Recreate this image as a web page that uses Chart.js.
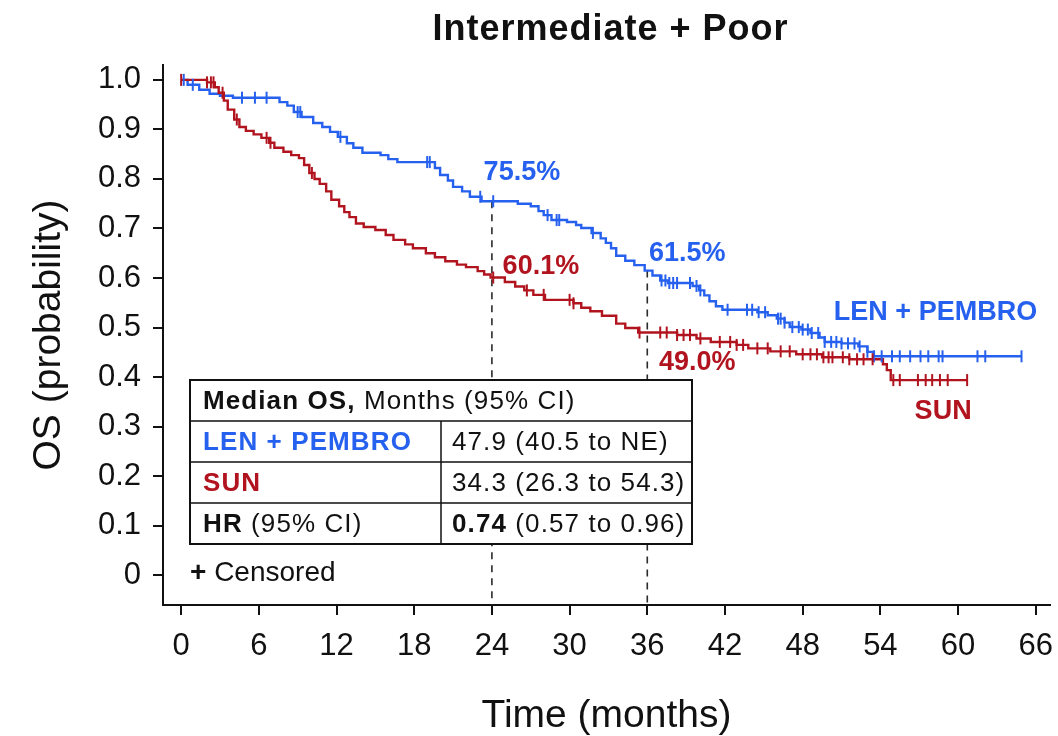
<!DOCTYPE html>
<html>
<head>
<meta charset="utf-8">
<title>OS - Intermediate + Poor</title>
<script src="https://cdn.jsdelivr.net/npm/chart.js@4.4.1/dist/chart.umd.min.js"></script>
<style>
  html, body { margin: 0; padding: 0; background: #fff; }
  #wrap { width: 1058px; height: 736px; }
</style>
</head>
<body>
<div id="wrap"><canvas id="os-chart" width="1058" height="736"></canvas></div>
<script>
// Kaplan-Meier OS curves, intermediate + poor risk group

// LEN + PEMBRO: event times (months) and survival right after each step
const lenTime = [0, 0.5, 1.4, 2.2, 3.0, 4.0, 7.6, 8.2, 8.7, 9.3, 10.2, 10.9, 11.5, 12.1, 12.8, 13.3, 14.0, 15.4, 16.0, 16.7,
  19.6, 20.0, 20.6, 21.0, 21.7, 22.3, 23.2, 26.0, 27.0, 27.6, 28.0, 28.6, 29.8, 30.5, 30.9, 31.7, 32.4, 32.8, 33.2, 33.6,
  34.3, 35.0, 35.8, 36.4, 37.0, 37.6, 39.5, 40.0, 40.4, 40.8, 41.3, 41.8, 44.5, 45.3, 46.0, 46.6, 47.0, 47.9, 48.6, 49.3,
  49.7, 51.0, 52.3, 53.0, 53.5, 64.9];
const lenSurv = [1.0, 0.99, 0.98, 0.972, 0.968, 0.964, 0.955, 0.948, 0.935, 0.925, 0.913, 0.905, 0.895, 0.885, 0.872, 0.863, 0.853, 0.848, 0.84, 0.834,
  0.822, 0.808, 0.797, 0.784, 0.775, 0.764, 0.755, 0.75, 0.745, 0.735, 0.727, 0.717, 0.713, 0.707, 0.701, 0.691, 0.68, 0.671, 0.66, 0.645,
  0.635, 0.626, 0.615, 0.605, 0.595, 0.59, 0.584, 0.575, 0.565, 0.553, 0.543, 0.536, 0.531, 0.525, 0.518, 0.51, 0.501, 0.496, 0.489, 0.48,
  0.471, 0.468, 0.462, 0.451, 0.442, 0.442];
const lenCensor = [0.2, 0.9, 4.7, 5.7, 6.6, 9.0, 9.2, 12.3, 19.0, 19.2, 23.1, 24.1, 28.3, 29.0, 29.2, 31.8, 37.1, 37.4, 37.7, 38.0,
  38.3, 39.3, 39.8, 40.1, 42.2, 43.7, 44.1, 44.6, 45.1, 46.1, 46.3, 46.6, 47.2, 47.7, 48.0, 48.4, 48.7, 49.2, 49.7, 50.2,
  50.6, 51.0, 51.5, 52.0, 52.4, 53.0, 53.5, 54.1, 54.9, 55.5, 56.3, 57.1, 57.7, 58.5, 58.8, 61.5, 62.1, 64.9];

// SUN
const sunTime = [0, 2.0, 2.6, 2.9, 3.3, 3.6, 4.1, 4.5, 5.0, 5.6, 6.2, 6.8, 7.2, 7.9, 8.5, 9.1, 9.5, 9.9, 10.3, 10.7,
  11.2, 11.6, 12.2, 12.6, 13.0, 13.5, 14.1, 15.0, 15.8, 16.4, 17.3, 17.9, 18.9, 19.6, 20.4, 21.3, 22.0, 22.9, 23.4, 23.9,
  25.0, 25.8, 26.5, 27.2, 28.1, 30.3, 30.9, 31.6, 32.5, 33.6, 34.3, 35.3, 38.3, 39.8, 40.9, 42.9, 43.8, 45.5, 47.5, 49.5,
  51.6, 54.2, 54.5, 54.8, 60.7];
const sunSurv = [1.0, 0.995, 0.985, 0.974, 0.958, 0.94, 0.92, 0.905, 0.897, 0.89, 0.883, 0.873, 0.863, 0.855, 0.848, 0.842, 0.828, 0.812, 0.8, 0.79,
  0.775, 0.758, 0.745, 0.733, 0.723, 0.71, 0.703, 0.697, 0.687, 0.677, 0.668, 0.66, 0.65, 0.642, 0.634, 0.627, 0.622, 0.614, 0.607, 0.601,
  0.592, 0.583, 0.575, 0.566, 0.556, 0.549, 0.54, 0.533, 0.524, 0.508, 0.499, 0.49, 0.485, 0.478, 0.471, 0.465, 0.458, 0.452, 0.446, 0.44,
  0.436, 0.426, 0.414, 0.394, 0.394];
const sunCensor = [0, 2.0, 2.3, 2.5, 3.2, 4.3, 6.6, 6.9, 10.1, 24.1, 26.7, 28.0, 30.0, 30.3, 35.4, 37.0, 37.5, 38.3, 38.8, 39.3,
  40.1, 41.6, 42.4, 42.9, 43.4, 44.5, 45.3, 46.3, 47.0, 48.0, 48.6, 49.1, 49.6, 50.0, 50.3, 51.1, 51.6, 52.2, 52.7, 53.4,
  55.0, 55.5, 56.9, 57.5, 58.0, 58.6, 59.2, 60.7];

// landmark estimates at 24 and 36 months
const landmarkMonths = [24, 36];
const lenLandmark = [0.755, 0.615];
const sunLandmark = [0.601, 0.490];

// axes
const xTicks = [0, 6, 12, 18, 24, 30, 36, 42, 48, 54, 60, 66];
const yTicks = [0, 0.1, 0.2, 0.3, 0.4, 0.5, 0.6, 0.7, 0.8, 0.9, 1.0];

// summary table
const armNames = ["LEN + PEMBRO", "SUN"];
const medianOS = ["47.9 (40.5 to NE)", "34.3 (26.3 to 54.3)"];
const hrValue = "0.74";
const hrCI = "(0.57 to 0.96)";

const BLUE = "#2660ee";
const RED = "#b1141f";
const FONT = '"Liberation Sans", Arial, Helvetica, sans-serif';

const survivalAt = (times, surv, t) => {
    let s = surv[0];
    for (let i = 0; i < times.length; i++) {
        if (times[i] <= t) s = surv[i];
        else break;
    }
    return s;
};

const curve = (times, surv) => times.map((t, i) => ({ x: t, y: surv[i] }));
const censorPts = (cens, times, surv) => cens.map(t => ({ x: t, y: survivalAt(times, surv, t) }));
const pct = (v) => (v * 100).toFixed(1) + "%";

const Y_MIN = -0.06;

// draws a row of text pieces with mixed weight / colour
function drawRuns(ctx, x, y, runs, size, spacing) {
    ctx.letterSpacing = spacing + "px";
    runs.forEach(r => {
        ctx.font = (r.bold ? "bold " : "") + size + "px " + FONT;
        ctx.fillStyle = r.color || "#111";
        ctx.fillText(r.text, x, y);
        x += ctx.measureText(r.text).width;
    });
    ctx.letterSpacing = "0px";
}

const overlay = {
    id: "overlay",
    afterDatasetsDraw(chart) {
        const { ctx, chartArea, scales } = chart;
        const xs = scales.x, ys = scales.y;
        ctx.save();
        ctx.textBaseline = "middle";

        // title
        ctx.textAlign = "center";
        ctx.font = "bold 36px " + FONT;
        ctx.letterSpacing = "1px";
        ctx.fillStyle = "#111";
        ctx.fillText("Intermediate + Poor", (chartArea.left + chartArea.right) / 2 + 4, 30);
        ctx.letterSpacing = "0px";

        // landmark percentages
        const offs = [[[30, -29], [49, -11]], [[40, -17], [50, 30]]];
        landmarkMonths.forEach((m, i) => {
            const px = xs.getPixelForValue(m);
            ctx.font = "bold 27px " + FONT;
            ctx.fillStyle = BLUE;
            ctx.fillText(pct(lenLandmark[i]), px + offs[i][0][0], ys.getPixelForValue(lenLandmark[i]) + offs[i][0][1]);
            ctx.fillStyle = RED;
            ctx.fillText(pct(sunLandmark[i]), px + offs[i][1][0], ys.getPixelForValue(sunLandmark[i]) + offs[i][1][1]);
        });

        // arm labels near the curve tails
        const lenEnd = lenTime.length - 1, sunEnd = sunTime.length - 1;
        ctx.font = "bold 27px " + FONT;
        ctx.fillStyle = BLUE;
        ctx.fillText(armNames[0], xs.getPixelForValue(lenTime[lenEnd]) - 86, ys.getPixelForValue(lenSurv[lenEnd]) - 44);
        ctx.fillStyle = RED;
        ctx.fillText(armNames[1], xs.getPixelForValue(sunTime[sunEnd]) - 24, ys.getPixelForValue(sunSurv[sunEnd]) + 31);

        // median OS table
        const tl = chartArea.left + 27, tr = tl + 502, tt = 380, rowH = 41, colX = tl + 251;
        ctx.fillStyle = "#fff";
        ctx.fillRect(tl, tt, tr - tl, rowH * 4);
        ctx.strokeStyle = "#111";
        ctx.lineWidth = 1.5;
        ctx.beginPath();
        for (let r = 1; r < 4; r++) {
            ctx.moveTo(tl, tt + rowH * r);
            ctx.lineTo(tr, tt + rowH * r);
        }
        ctx.moveTo(colX, tt + rowH);
        ctx.lineTo(colX, tt + rowH * 4);
        ctx.stroke();
        ctx.lineWidth = 2;
        ctx.strokeRect(tl, tt, tr - tl, rowH * 4);

        ctx.textAlign = "left";
        const tx = tl + 13, vx = colX + 11, fs = 26, sp = 1.1;
        drawRuns(ctx, tx, tt + rowH * 0.5 + 1, [{ text: "Median OS,", bold: true }, { text: " Months (95% CI)" }], fs, sp);
        drawRuns(ctx, tx, tt + rowH * 1.5 + 1, [{ text: armNames[0], bold: true, color: BLUE }], fs, sp);
        drawRuns(ctx, vx, tt + rowH * 1.5 + 1, [{ text: medianOS[0] }], fs, sp);
        drawRuns(ctx, tx, tt + rowH * 2.5 + 1, [{ text: armNames[1], bold: true, color: RED }], fs, sp);
        drawRuns(ctx, vx, tt + rowH * 2.5 + 1, [{ text: medianOS[1] }], fs, sp);
        drawRuns(ctx, tx, tt + rowH * 3.5 + 1, [{ text: "HR", bold: true }, { text: " (95% CI)" }], fs, sp);
        drawRuns(ctx, vx, tt + rowH * 3.5 + 1, [{ text: hrValue, bold: true }, { text: " " + hrCI }], fs, sp);

        // censor key
        drawRuns(ctx, tl, 573, [{ text: "+", bold: true }, { text: " Censored" }], 28, 0);

        ctx.restore();
    }
};

const dashLine = (i, top) => ({
    data: [{ x: landmarkMonths[i], y: top }, { x: landmarkMonths[i], y: Y_MIN }],
    borderColor: "#2a2a2a",
    borderWidth: 1.6,
    borderDash: [7, 6],
    pointRadius: 0,
    order: 4
});

const stepLine = (pts, color) => ({
    data: pts,
    borderColor: color,
    borderWidth: 2.4,
    stepped: true,
    pointRadius: 0,
    order: 2
});

const ticksLine = (pts, color) => ({
    data: pts,
    showLine: false,
    pointStyle: "line",
    rotation: 90,
    pointRadius: 6,
    borderColor: color,
    borderWidth: 2,
    order: 1
});

const axisStyle = {
    border: { display: true, color: "#111", width: 2 },
    grid: { display: true, drawOnChartArea: false, drawTicks: true, tickLength: 10, color: "#111", lineWidth: 2 },
};

new Chart(document.getElementById("os-chart"), {
    type: "line",
    data: {
        datasets: [
            dashLine(0, lenLandmark[0]),
            dashLine(1, lenLandmark[1]),
            stepLine(curve(sunTime, sunSurv), RED),
            stepLine(curve(lenTime, lenSurv), BLUE),
            ticksLine(censorPts(sunCensor, sunTime, sunSurv), RED),
            ticksLine(censorPts(lenCensor, lenTime, lenSurv), BLUE),
        ]
    },
    options: {
        responsive: false,
        animation: false,
        layout: { padding: { top: 65, right: 8, left: 0, bottom: 0 } },
        plugins: { legend: { display: false }, tooltip: { enabled: false } },
        scales: {
            x: {
                type: "linear",
                min: -1.4,
                max: 67.1,
                ...axisStyle,
                afterBuildTicks: (s) => { s.ticks = xTicks.map(v => ({ value: v })); },
                afterFit: (s) => { s.height = 131; s.paddingLeft = 0; s.paddingRight = 0; },
                ticks: { color: "#111", font: { family: FONT, size: 31 }, padding: 13, maxRotation: 0, autoSkip: false },
                title: { display: true, text: "Time (months)", color: "#111", font: { family: FONT, size: 39, lineHeight: 1.0 }, padding: 0 }
            },
            y: {
                min: Y_MIN,
                max: 1.03,
                ...axisStyle,
                afterBuildTicks: (s) => { s.ticks = yTicks.map(v => ({ value: v })); },
                afterFit: (s) => { s.width = 163; s.paddingTop = 0; s.paddingBottom = 0; },
                ticks: {
                    color: "#111",
                    font: { family: FONT, size: 31 },
                    padding: 12,
                    autoSkip: false,
                    callback: (v) => v === 0 ? "0" : v.toFixed(1)
                },
                title: { display: true, text: "OS (probability)", color: "#111", font: { family: FONT, size: 39, lineHeight: 1.0 }, padding: { top: 30 } }
            }
        }
    },
    plugins: [overlay]
});
</script>
</body>
</html>
